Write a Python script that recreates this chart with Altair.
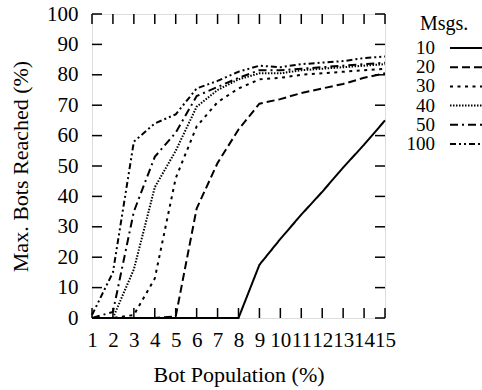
import altair as alt
import pandas as pd

# ---- data ----
x_vals = list(range(1, 16))
msgs = ["10", "20", "30", "40", "50", "100"]
s10 = [0, 0, 0, 0, 0, 0, 0, 0, 17.5, 26, 34, 41.5, 49.5, 57, 65]
s20 = [0, 0, 0, 0, 0.5, 36, 51, 62, 70.5, 72, 74, 75.5, 77, 79, 80.5]
s30 = [0, 0, 1, 13, 46, 63, 71, 75.5, 78.5, 79, 80, 80.5, 81, 81.5, 82]
s40 = [0, 0, 16, 43, 55, 69.5, 75, 78.5, 80.5, 80.5, 81.5, 82, 82.5, 83, 83.5]
s50 = [0, 2, 35, 53, 61, 73, 76, 79, 81.5, 81.5, 82, 82.5, 83, 83.5, 84]
s100 = [1, 15, 58, 64, 67, 75.5, 78, 81, 83, 82.5, 83.5, 84, 84.5, 85.5, 86]
x_ticks = list(range(1, 16))
y_ticks = list(range(0, 101, 10))
legend_title = ["Msgs."]

series = [s10, s20, s30, s40, s50, s100]
rows = []
for m, s in zip(msgs, series):
    for xv, yv in zip(x_vals, s):
        rows.append({"pop": xv, "reach": yv, "msgs": m})
df = pd.DataFrame(rows)

FONT = "Liberation Serif"
W, H = 293, 304
TICK = 10

dashes = [[1, 0], [8, 4], [3, 4.5], [1.5, 1.5], [8, 4, 2, 4], [6, 3, 2, 3, 2, 3]]
dash_scale = alt.Scale(domain=msgs, range=dashes)

xscale = alt.Scale(domain=[1, 15], nice=False, zero=False)
yscale = alt.Scale(domain=[0, 100], nice=False)

xaxis = alt.Axis(values=x_ticks, title="Bot Population (%)", labelFont=FONT, labelFontSize=21,
                 titleFont=FONT, titleFontSize=22, titleFontWeight="normal", labelColor="black",
                 titleColor="black", ticks=False, domain=False, grid=False, labelPadding=11,
                 labelOverlap=False, labelFlush=False, titlePadding=14)
yaxis = alt.Axis(values=y_ticks, title="Max. Bots Reached (%)", labelFont=FONT, labelFontSize=21,
                 titleFont=FONT, titleFontSize=22, titleFontWeight="normal", labelColor="black",
                 titleColor="black", ticks=False, domain=False, grid=False, labelPadding=14,
                 labelOverlap=False, titlePadding=14)

lines = alt.Chart(df).mark_line(color="black", strokeWidth=2).encode(
    x=alt.X("pop:Q", scale=xscale, axis=xaxis),
    y=alt.Y("reach:Q", scale=yscale, axis=yaxis),
    strokeDash=alt.StrokeDash("msgs:N", scale=dash_scale, legend=None),
    order=alt.Order("pop:Q"),
)

xt = pd.DataFrame({"pop": x_ticks})
yt = pd.DataFrame({"reach": y_ticks})

bottom_ticks = alt.Chart(xt).mark_rule(color="black", strokeWidth=1.5).encode(
    x=alt.X("pop:Q", scale=xscale, axis=xaxis), y=alt.value(H), y2=alt.value(H - TICK))
top_ticks = alt.Chart(xt).mark_rule(color="black", strokeWidth=1.5).encode(
    x=alt.X("pop:Q", scale=xscale, axis=xaxis), y=alt.value(0), y2=alt.value(TICK))
left_ticks = alt.Chart(yt).mark_rule(color="black", strokeWidth=1.5).encode(
    y=alt.Y("reach:Q", scale=yscale, axis=yaxis), x=alt.value(0), x2=alt.value(TICK))
right_ticks = alt.Chart(yt).mark_rule(color="black", strokeWidth=1.5).encode(
    y=alt.Y("reach:Q", scale=yscale, axis=yaxis), x=alt.value(W), x2=alt.value(W - TICK))

main = alt.layer(lines, bottom_ticks, top_ticks, left_ticks, right_ticks)

# ---- legend (labels to the left of the line samples, as in the reference) ----
leg_df = pd.DataFrame({"msgs": msgs})
leg_y = alt.Y("msgs:N", sort=msgs, axis=None,
              scale=alt.Scale(type="point", domain=msgs, range=[34, 130], padding=0))

leg_lines = alt.Chart(leg_df).mark_rule(color="black", strokeWidth=2).encode(
    y=leg_y, x=alt.value(358), x2=alt.value(392),
    strokeDash=alt.StrokeDash("msgs:N", scale=dash_scale, legend=None),
)
leg_text = alt.Chart(leg_df).mark_text(
    align="right", baseline="middle", font=FONT, fontSize=19, color="black"
).encode(y=leg_y, x=alt.value(343), text="msgs:N")
leg_title = alt.Chart(pd.DataFrame({"t": legend_title})).mark_text(
    align="left", baseline="alphabetic", font=FONT, fontSize=20, color="black"
).encode(x=alt.value(328), y=alt.value(16), text="t:N")

legend = alt.layer(leg_lines, leg_text, leg_title)

chart = alt.layer(main, legend).resolve_scale(y="independent").properties(
    width=W, height=H,
    autosize=alt.AutoSizeParams(type="none"),
    padding={"left": 92, "top": 14, "right": 97, "bottom": 72},
).configure_view(stroke="black", strokeWidth=2).configure(background="white")

chart.save("out.html", embed_options={"renderer": "svg", "actions": False})
